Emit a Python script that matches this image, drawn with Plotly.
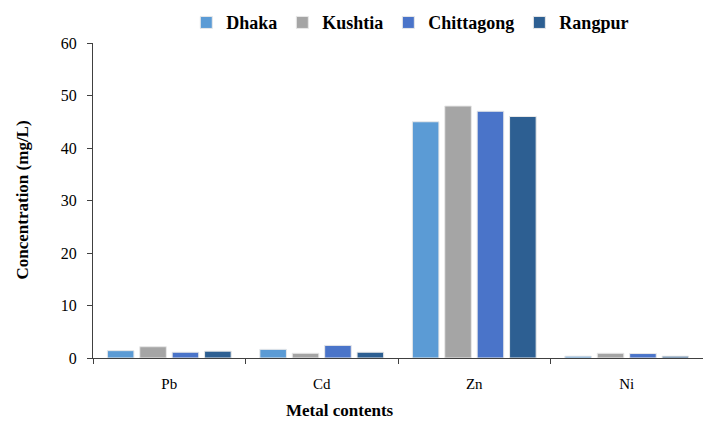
import plotly.graph_objects as go

metals = ["Pb", "Cd", "Zn", "Ni"]
dhaka = [1.4, 1.65, 45, 0.35]
kushtia = [2.15, 0.9, 48, 0.9]
chittagong = [1.1, 2.4, 47, 0.85]
rangpur = [1.3, 1.1, 46, 0.35]

series = [
    ("Dhaka", dhaka, "#5b9bd5"),
    ("Kushtia", kushtia, "#a5a5a5"),
    ("Chittagong", chittagong, "#4a74c9"),
    ("Rangpur", rangpur, "#2d5f92"),
]

serif = "Liberation Serif"

fig = go.Figure()
for name, vals, col in series:
    fig.add_trace(go.Bar(
        x=metals, y=vals, name="<b>" + name + "</b>",
        marker=dict(color=col, line=dict(color="#e8e8e8", width=1)),
    ))

fig.update_layout(
    barmode="group",
    bargap=0.15,
    bargroupgap=0.18,
    width=703, height=425,
    margin=dict(l=93, r=0, t=43, b=67),
    paper_bgcolor="white",
    plot_bgcolor="white",
    font=dict(family=serif, color="black", size=13),
    legend=dict(
        orientation="h",
        xref="container", yref="container",
        x=0.265, y=0.99, xanchor="left", yanchor="top",
        font=dict(family=serif, size=18, color="black"),
        itemwidth=30,
        traceorder="normal",
    ),
    xaxis=dict(
        showline=True, linecolor="#404040", linewidth=1,
        ticks="outside", tickson="boundaries", ticklen=5, tickcolor="#404040",
        showgrid=False, automargin=False,
        ticklabelstandoff=12,
        tickfont=dict(family=serif, size=15),
    ),
    yaxis=dict(
        range=[0, 60], dtick=10,
        showline=True, linecolor="#404040", linewidth=1,
        ticks="outside", ticklen=5, tickcolor="#404040",
        showgrid=False, zeroline=False, automargin=False,
        ticklabelstandoff=7,
        tickfont=dict(family=serif, size=16),
    ),
    annotations=[
        dict(text="<b>Metal contents</b>", xref="paper", yref="paper",
             x=(340 - 93) / 610, y=-52 / 315, xanchor="center", yanchor="middle",
             showarrow=False, font=dict(family=serif, size=17)),
        dict(text="<b>Concentration (mg/L)</b>", xref="paper", yref="paper",
             x=-(93 - 22) / 610, y=0.5, textangle=-90,
             xanchor="center", yanchor="middle",
             showarrow=False, font=dict(family=serif, size=17)),
    ],
)

fig.write_html("out.html", config={"displayModeBar": False},
               post_script="document.body.style.margin='0';")
